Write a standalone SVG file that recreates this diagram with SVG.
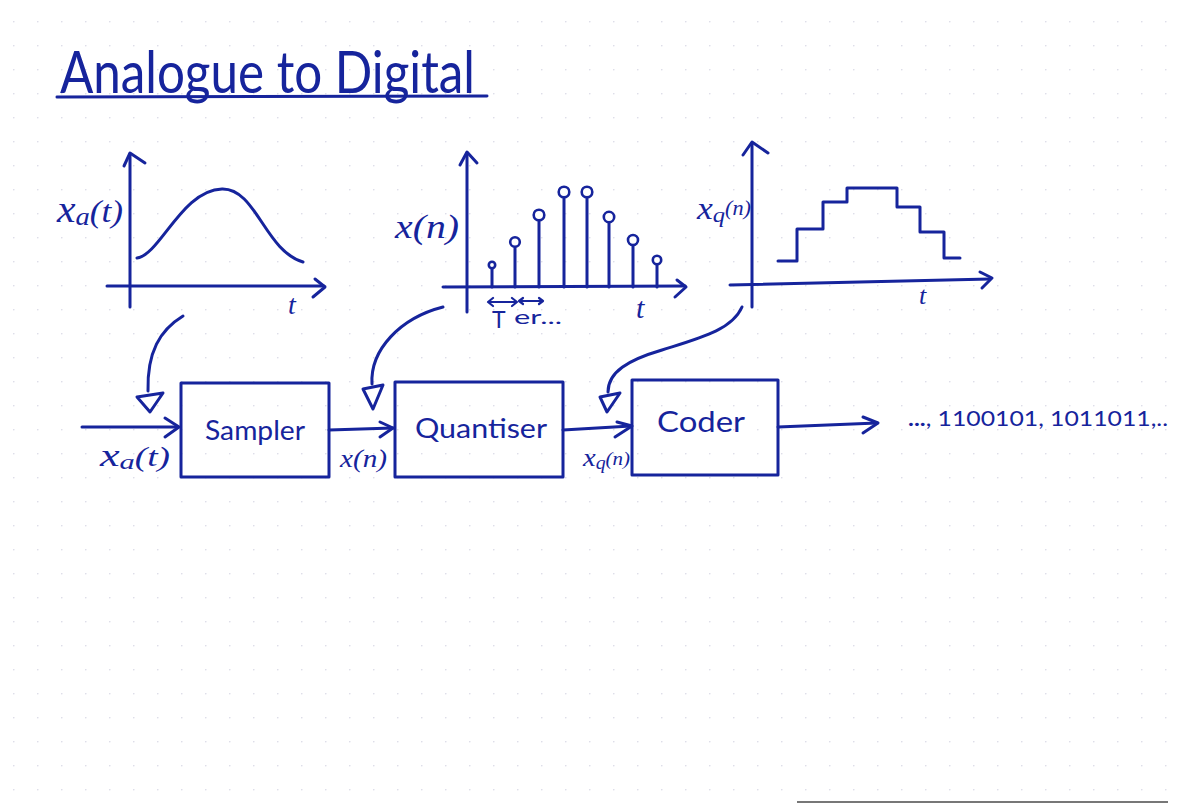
<svg xmlns="http://www.w3.org/2000/svg" width="1179" height="804" viewBox="0 0 1179 804">
<defs>
<style>
.ink{fill:none;stroke:#16249c;stroke-width:3;stroke-linecap:round;stroke-linejoin:round}
.thin{fill:none;stroke:#16249c;stroke-width:2.2;stroke-linecap:round;stroke-linejoin:round}
.box{fill:none;stroke:#16249c;stroke-width:3;stroke-linejoin:round}
.lbl{fill:#16249c;font-family:"Lato","Open Sans",sans-serif}
.math{fill:#16249c;font-family:"Liberation Serif",serif;font-style:italic}
.stemc{fill:#ffffff;stroke:#16249c;stroke-width:2.6}
</style>
<pattern id="dots" x="13" y="21" width="24" height="24" patternUnits="userSpaceOnUse">
<circle cx="0.8" cy="0.8" r="0.8" fill="#d6d6e4"/>
</pattern>
</defs>
<rect width="1179" height="804" fill="#ffffff"/>
<rect width="1179" height="804" fill="url(#dots)"/>
<line x1="797" y1="802" x2="1168" y2="802" stroke="#777" stroke-width="2"/>

<g id="title">
<text class="lbl" x="60" y="93" font-size="58" textLength="415" lengthAdjust="spacingAndGlyphs">Analogue to Digital</text>
<path class="ink" d="M57,97 L487,96"/>
</g>

<g id="graph-analogue">
<path class="ink" d="M130,154 L130,307"/>
<path class="ink" d="M124,166 L130,153 L145,163"/>
<path class="ink" d="M107,286 L324,286"/>
<path class="ink" d="M315,279 L325,287 L313,297"/>
<path class="ink" d="M137,258 C160,255 182,190 222,189 C256,188 265,251 303,262"/>
<text class="math" x="57" y="222" font-size="38" textLength="66" lengthAdjust="spacingAndGlyphs">x<tspan dy="3" font-size="26">a</tspan><tspan dy="-3" font-size="32">(t)</tspan></text>
<text class="math" x="288" y="314" font-size="28">t</text>
</g>

<g id="graph-sampled">
<path class="ink" d="M467,153 L467,312"/>
<path class="ink" d="M460,165 L467,152 L477,163"/>
<path class="ink" d="M443,287 L685,286"/>
<path class="ink" d="M677,280 L686,287 L675,297"/>
<path class="ink" d="M492,268 V287 M515,247 V287 M539,221 V287 M564,198 V287 M587,198 V287 M609,223 V287 M633,245 V287 M657,264 V287"/>
<circle class="stemc" cx="492" cy="265" r="3.2"/>
<circle class="stemc" cx="515" cy="242" r="4.8"/>
<circle class="stemc" cx="539" cy="215" r="5.3"/>
<circle class="stemc" cx="564" cy="192" r="5.3"/>
<circle class="stemc" cx="587" cy="192" r="5.3"/>
<circle class="stemc" cx="609" cy="217" r="5.2"/>
<circle class="stemc" cx="633" cy="240" r="5"/>
<circle class="stemc" cx="657" cy="260" r="4.2"/>
<text class="math" x="395" y="238" font-size="34" textLength="64" lengthAdjust="spacingAndGlyphs">x(n)</text>
<path class="thin" d="M488,302 L517,302 M493,298 L488,302 L493,306 M512,298 L517,302 L512,306"/>
<path class="thin" d="M519,301 L543,301 M523,298 L519,301 L523,304 M539,298 L543,301 L539,304"/>
<text class="lbl" x="492" y="328" font-size="23">T</text>
<text class="lbl" x="514" y="324" font-size="20" textLength="48" lengthAdjust="spacingAndGlyphs">er...</text>
<text class="math" x="636" y="318" font-size="30">t</text>
</g>

<g id="graph-quantised">
<path class="ink" d="M752,143 L752,307"/>
<path class="ink" d="M743,155 L752,142 L768,153"/>
<path class="ink" d="M730,285 L990,279"/>
<path class="ink" d="M980,272 L992,278 L982,288"/>
<path class="ink" d="M778,261 H797 V229 H823 V202 H847 V188 H897 V207 H920 V232 H944 V258 H960"/>
<text class="math" x="697" y="219" font-size="32" textLength="54" lengthAdjust="spacingAndGlyphs">x<tspan dy="3" font-size="22">q</tspan><tspan dy="-7" font-size="20">(n)</tspan></text>
<text class="math" x="919" y="304" font-size="26">t</text>
</g>

<g id="sampler">
<rect class="box" x="181" y="383" width="148" height="94"/>
<text class="lbl" x="255" y="440" font-size="27" text-anchor="middle" textLength="100" lengthAdjust="spacingAndGlyphs">Sampler</text>
</g>

<g id="quantiser">
<rect class="box" x="395" y="382" width="168" height="95"/>
<text class="lbl" x="481" y="438" font-size="27" text-anchor="middle" textLength="132" lengthAdjust="spacingAndGlyphs">Quantiser</text>
</g>

<g id="coder">
<rect class="box" x="632" y="380" width="146" height="95"/>
<text class="lbl" x="701" y="432" font-size="28" text-anchor="middle" textLength="88" lengthAdjust="spacingAndGlyphs">Coder</text>
</g>

<g id="output">
<text class="lbl" x="908" y="426" font-size="21" textLength="260" lengthAdjust="spacingAndGlyphs"><tspan font-weight="bold">...</tspan>, 1100101, 1011011,..</text>
</g>

<g id="connectors">
<path class="ink" d="M82,427 L178,427"/>
<path class="ink" d="M165,418 L179,427 L165,437"/>
<text class="math" x="100" y="466" font-size="32" textLength="70" lengthAdjust="spacingAndGlyphs">x<tspan dy="3" font-size="22">a</tspan><tspan dy="-3" font-size="27">(t)</tspan></text>

<path class="ink" d="M329,430 L393,428"/>
<path class="ink" d="M380,422 L393,428 L380,437"/>
<text class="math" x="340" y="467" font-size="26" textLength="47" lengthAdjust="spacingAndGlyphs">x(n)</text>

<path class="ink" d="M563,430 L631,426"/>
<path class="ink" d="M617,422 L632,426 L615,437"/>
<text class="math" x="583" y="466" font-size="26" textLength="47" lengthAdjust="spacingAndGlyphs">x<tspan dy="3" font-size="18">q</tspan><tspan dy="-4" font-size="19">(n)</tspan></text>

<path class="ink" d="M778,427 L877,423"/>
<path class="ink" d="M863,417 L878,423 L863,433"/>

<path class="ink" d="M183,316 C160,330 147,352 148,391"/>
<path class="ink" d="M137,397 L163,393 L150,412 Z"/>

<path class="ink" d="M443,307 C400,318 370,350 372,384"/>
<path class="ink" d="M363,389 L383,385 L373,409 Z"/>

<path class="ink" d="M742,307 C732,330 700,338 662,350 C628,360 608,372 608,392"/>
<path class="ink" d="M600,397 L620,393 L607,412 Z"/>
</g>
</svg>
